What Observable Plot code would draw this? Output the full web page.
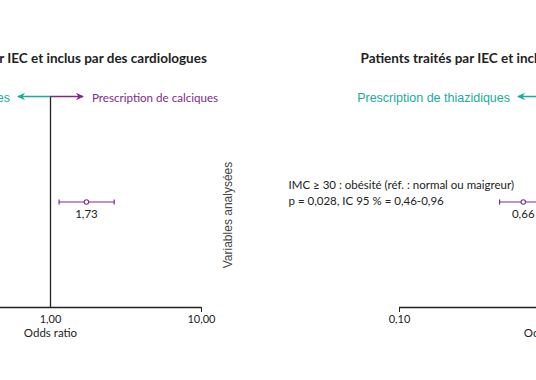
<!DOCTYPE html>
<html><head><meta charset="utf-8">
<script src="https://cdn.jsdelivr.net/npm/d3@7"></script>
<script src="https://cdn.jsdelivr.net/npm/@observablehq/plot@0.6"></script>
<style>
html,body{margin:0;padding:0;background:#fff;}
#wrap{position:relative;width:536px;height:380px;overflow:hidden;background:#fff;}
#wrap svg{position:absolute;top:0;max-width:none !important;width:720px !important;height:380px !important;}
</style></head><body><div id="wrap"></div>
<script>
// ---- data ----
const panelTitles = ["Patients traités par IEC et inclus par des cardiologues", "Patients traités par IEC et inclus par des généralistes"];
const variableLabels = ["", "IMC ≥ 30 : obésité (réf. : normal ou maigreur)"];
const statLabels = ["", "p = 0,028, IC 95 % = 0,46-0,96"];
const oddsRatios = [1.73, 0.66];
const ciLow = [1.14, 0.46];
const ciHigh = [2.64, 0.96];
const axisTicks = [0.1, 1, 10];
const directionLabels = ["Prescription de thiazidiques", "Prescription de calciques"];
const yAxisLabel = "Variables analysées";
const xAxisLabel = "Odds ratio";

// ---- style ----
const teal = "#1aab9c";
const purple = "#7d2a8c";
const ink = "#222";
const humanist = "Lato, 'Open Sans', sans-serif";
const arial = "'Liberation Sans', Arial, sans-serif";
const fmt = d => d.toFixed(2).replace(".", ",");
const arrowSpan = 0.215; // decades
const ML = 200, PW = 302, W = 720;
const panelLeft = [-101 - ML, 399 - ML];
const titleDx = [-9, -39];

const capSymbol = {draw(ctx) { ctx.moveTo(0, -2.6); ctx.lineTo(0, 2.6); }};
const headSymbol = {draw(ctx) { ctx.moveTo(1, 0); ctx.lineTo(-7, -3.8); ctx.lineTo(-4.5, 0); ctx.lineTo(-7, 3.8); ctx.closePath(); }};

const wrap = document.getElementById("wrap");
panelTitles.forEach((title, i) => {
  const row = [{label: variableLabels[i], stat: statLabels[i], or: oddsRatios[i], lo: ciLow[i], hi: ciHigh[i]}];
  const arrows = [
    {x2: 10 ** -arrowSpan, color: teal, label: directionLabels[0], rot: 180},
    {x2: 10 ** arrowSpan, color: purple, label: directionLabels[1], rot: 0}
  ];
  const plot = Plot.plot({
    width: W, height: 380,
    marginLeft: ML, marginRight: W - ML - PW, marginTop: 96, marginBottom: 73,
    style: {fontFamily: humanist, fontSize: "11px", color: ink, background: "transparent", overflow: "visible", maxWidth: "none"},
    x: {type: "log", domain: [0.1, 10], axis: null},
    y: {domain: [0, 2], axis: null},
    marks: [
      Plot.ruleY([0], {stroke: ink, strokeWidth: 1.3}),
      Plot.ruleX([1], {y1: 0, y2: 2, stroke: ink, strokeWidth: 1.3}),
      Plot.axisX({ticks: [0.1, 10], tickSize: 5, tickFormat: () => "", label: null, stroke: ink}),
      Plot.axisX({ticks: axisTicks, tickSize: 0, tickPadding: 8, tickFormat: fmt, label: null, fontSize: 11, fill: ink}),
      Plot.text([xAxisLabel], {frameAnchor: "bottom", dy: 29, fontSize: 11.5, fill: ink}),
      // direction arrows
      Plot.link(arrows, {x1: 1, x2: "x2", y1: 2, y2: 2, stroke: "color", strokeWidth: 1.4}),
      Plot.dot(arrows, {x: "x2", y: 2, symbol: headSymbol, r: 3, fill: "color", stroke: "none", rotate: "rot"}),
      Plot.text(arrows.slice(0, 1), {x: "x2", y: 2, text: "label", textAnchor: "end", dx: -8, dy: 1, fill: teal, fontFamily: arial, fontSize: 12.5}),
      Plot.text(arrows.slice(1), {x: "x2", y: 2, text: "label", textAnchor: "start", dx: 9, dy: 2, fill: purple, fontSize: 11.6}),
      // confidence interval
      Plot.link(row, {x1: "lo", x2: "hi", y1: 1, y2: 1, stroke: purple, strokeWidth: 1.2}),
      Plot.dot(row, {x: "lo", y: 1, symbol: capSymbol, stroke: purple, strokeWidth: 1.2}),
      Plot.dot(row, {x: "hi", y: 1, symbol: capSymbol, stroke: purple, strokeWidth: 1.2}),
      Plot.dot(row, {x: "or", y: 1, r: 2.2, fill: "white", stroke: purple, strokeWidth: 1.1}),
      Plot.text(row, {x: "or", y: 1, text: d => fmt(d.or), dy: 12, fontSize: 11.5, fill: ink}),
      // variable label
      Plot.text(row, {frameAnchor: "left", y: 1, text: "label", textAnchor: "start", dx: 288 - 399, dy: -17, fontSize: 11.5, fill: ink}),
      Plot.text(row, {frameAnchor: "left", y: 1, text: "stat", textAnchor: "start", dx: 288 - 399, dy: -1, fontSize: 11.5, fill: ink}),
      Plot.text([yAxisLabel], {frameAnchor: "left", textAnchor: "middle", dx: 228 - 399, dy: 13, rotate: -90, fontFamily: arial, fontSize: 12, fill: "#444"}),
      // title
      Plot.text([title], {frameAnchor: "top-left", textAnchor: "start", dx: titleDx[i], dy: -43, fontWeight: "bold", fontSize: 13.5, fill: ink})
    ]
  });
  plot.style.left = panelLeft[i] + "px";
  wrap.appendChild(plot);
});
</script>
</body></html>
